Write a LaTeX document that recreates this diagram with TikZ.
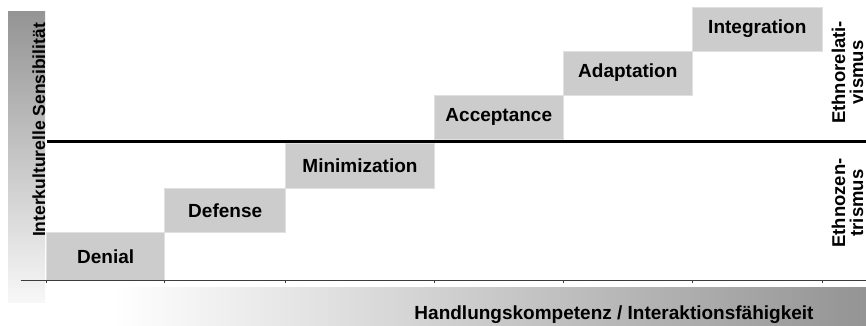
\documentclass[tikz,border=0pt]{standalone}
\usepackage{fontspec}
\setmainfont{Liberation Sans}
\definecolor{boxgray}{RGB}{204, 204, 204}
\definecolor{axisgray}{RGB}{60, 60, 60}
\usetikzlibrary{positioning}
\tikzset{
	stage/.style={rectangle, draw=black!12, fill=boxgray, line width=0.6pt, inner sep=0pt, outer sep=0pt, minimum height=44.5pt, anchor=south west, font=\fontsize{19}{22}\selectfont\bfseries},
	sidelabel/.style={rotate=90, inner sep=0pt, font=\fontsize{18.5}{18}\selectfont\bfseries},
	axislabel/.style={inner sep=0pt, anchor=base, font=\fontsize{19}{22}\selectfont\bfseries},
	divider/.style={line width=3.5pt, draw=black},
	axisline/.style={line width=1pt, draw=axisgray},
	scalemark/.style={line width=0.6pt, draw=axisgray},
}

\begin{document}
\begin{tikzpicture}[x=1pt, y=1pt]
	\useasboundingbox (0,0) rectangle (866,325);
	% gradient bars
	\shade[top color=black!42, bottom color=black!3] (8,23) rectangle (45,314);
	\shade[left color=white, right color=black!42] (113,0) rectangle (866,38);
	% stages
	\coordinate (o) at (46.7,44.5);
	\node[stage, minimum width=118pt, minimum height=48pt] (den) at (o) {Denial};
	\node[stage, minimum width=121pt] (def) at (den.north east) {Defense};
	\node[stage, minimum width=148.6pt] (min) at (def.north east) {Minimization};
	\node[stage, minimum width=129pt, minimum height=44pt] (acc) at ([yshift=4.5pt]min.north east) {Acceptance};
	\node[stage, minimum width=129pt, minimum height=44pt] (ada) at (acc.north east) {Adaptation};
	\node[stage, minimum width=130pt, minimum height=44pt] (int) at (ada.north east) {Integration};
	% divider and axis
	\draw[divider] (46.7,183.75) -- (866,183.75);
	\draw[axisline] (20.7,44.5) -- (866,44.5);
	\foreach \n in {den,def,min,acc,ada,int}
		\draw[scalemark] (\n.south west |- o) -- ++(0,-2.5);
	\draw[scalemark] (int.south east |- o) -- ++(0,-2.5);
	% labels
	\node[sidelabel, anchor=base, font=\fontsize{17.5}{18}\selectfont\bfseries] (sens) at (45,195) {Interkulturelle Sensibilität};
	\node[sidelabel, align=center] (erel) at (847.5,252.5) {Ethnorelati-\\vismus};
	\node[sidelabel, align=center] (ezen) at (847.5,122) {Ethnozen-\\trismus};
	\node[axislabel] (comp) at (614,5.7) {Handlungskompetenz / Interaktionsfähigkeit};
\end{tikzpicture}
\end{document}
